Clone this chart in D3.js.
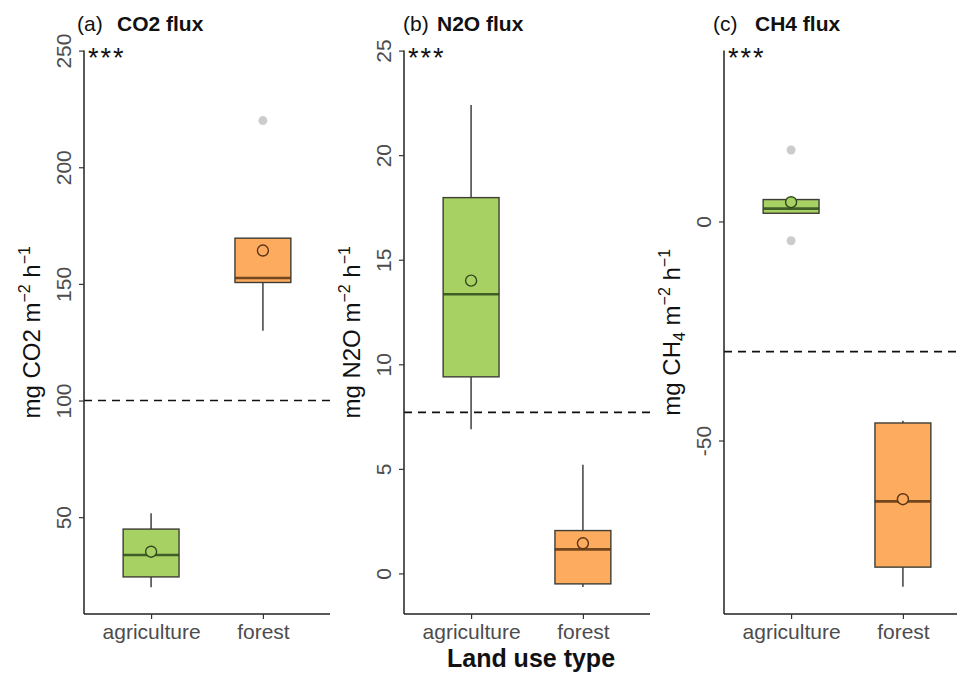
<!DOCTYPE html>
<html>
<head>
<meta charset="utf-8">
<script src="https://cdn.jsdelivr.net/npm/d3@7"></script>
<style>
  body { margin: 0; background: #fff; }
  svg { display: block; font-family: "Liberation Sans", Arial, sans-serif; }
</style>
</head>
<body>
<svg id="chart"></svg>
<script>
const categories = ['agriculture', 'forest'];
const panelTags = ['(a)', '(b)', '(c)'];
const panelTitles = ['CO2 flux', 'N2O flux', 'CH4 flux'];
const signif = '***';
const xTitle = 'Land use type';

// box stats per category: [whisker low, q1, median, q3, whisker high]
const co2Box = [[20, 24.4, 33.8, 44.9, 51.7], [129.9, 150.6, 152.5, 169.6, 169.6]];
const co2Mean = [35.2, 164.3];
const co2Outliers = [[], [220]];
const co2Ref = 100;
const co2Ticks = [50, 100, 150, 200, 250];
const co2Domain = [8.5, 250];

const n2oBox = [[6.9, 9.4, 13.35, 17.97, 22.4], [-0.65, -0.5, 1.15, 2.05, 5.2]];
const n2oMean = [14.0, 1.44];
const n2oOutliers = [[], []];
const n2oRef = 7.7;
const n2oTicks = [0, 5, 10, 15, 20, 25];
const n2oDomain = [-1.94, 25];

const ch4Box = [[1.87, 1.87, 2.94, 5.0, 5.0], [-83.4, -78.9, -63.9, -46, -45.5]];
const ch4Mean = [4.4, -63.4];
const ch4Outliers = [[16.3, -4.4], []];
const ch4Ref = -29.7;
const ch4Ticks = [-50, 0];
const ch4Domain = [-89.6, 39];

const panels = [
  { box: co2Box, mean: co2Mean, outliers: co2Outliers, ref: co2Ref, ticks: co2Ticks, domain: co2Domain, gas: ['CO2', ''] },
  { box: n2oBox, mean: n2oMean, outliers: n2oOutliers, ref: n2oRef, ticks: n2oTicks, domain: n2oDomain, gas: ['N2O', ''] },
  { box: ch4Box, mean: ch4Mean, outliers: ch4Outliers, ref: ch4Ref, ticks: ch4Ticks, domain: ch4Domain, gas: ['CH', '4'] }
];

const fills = { agriculture: '#a8d164', forest: '#fdab5e' };
const darks = { agriculture: '#2e4a1c', forest: '#5a3414' };

const width = 957;
const height = 673;
const plotTop = 50.6;
const plotBottom = 614;
const plotW = 246;
const panelStep = 320;
const firstAxis = 84;
const tagOffset = [-7, -1, -11];
const titleOffset = [33, 33, 31];

const svg = d3.select('#chart')
  .attr('width', width)
  .attr('height', height)
  .attr('viewBox', `0 0 ${width} ${height}`);

panels.forEach((p, i) => {
  const x0 = firstAxis + panelStep * i;
  const x = d3.scalePoint().domain(categories).range([x0, x0 + plotW]).padding(0.6);
  const y = d3.scaleLinear().domain(p.domain).range([plotBottom, plotTop]);
  const bw = x.step() * 0.5;
  const g = svg.append('g');

  // reference line
  g.append('line')
    .attr('x1', x0).attr('x2', x0 + plotW)
    .attr('y1', y(p.ref)).attr('y2', y(p.ref))
    .attr('stroke', '#111').attr('stroke-width', 1.6)
    .attr('stroke-dasharray', '8,6');

  const groups = g.selectAll('g.cat')
    .data(categories.map((c, k) => ({ cat: c, s: p.box[k], mean: p.mean[k], out: p.outliers[k] })))
    .join('g')
    .attr('class', 'cat');

  groups.append('line')
    .attr('x1', d => x(d.cat)).attr('x2', d => x(d.cat))
    .attr('y1', d => y(d.s[0])).attr('y2', d => y(d.s[1]))
    .attr('stroke', '#4d4d4d').attr('stroke-width', 1.6);
  groups.append('line')
    .attr('x1', d => x(d.cat)).attr('x2', d => x(d.cat))
    .attr('y1', d => y(d.s[3])).attr('y2', d => y(d.s[4]))
    .attr('stroke', '#4d4d4d').attr('stroke-width', 1.6);

  groups.selectAll('circle.out')
    .data(d => d.out.map(v => ({ cat: d.cat, v })))
    .join('circle')
    .attr('class', 'out')
    .attr('cx', d => x(d.cat)).attr('cy', d => y(d.v))
    .attr('r', 4.5)
    .attr('fill', '#cccccc');

  groups.append('rect')
    .attr('x', d => x(d.cat) - bw / 2)
    .attr('width', bw)
    .attr('y', d => y(d.s[3]))
    .attr('height', d => y(d.s[1]) - y(d.s[3]))
    .attr('fill', d => fills[d.cat])
    .attr('stroke', '#3d3d35').attr('stroke-width', 1.4);

  groups.append('line')
    .attr('x1', d => x(d.cat) - bw / 2).attr('x2', d => x(d.cat) + bw / 2)
    .attr('y1', d => y(d.s[2])).attr('y2', d => y(d.s[2]))
    .attr('stroke', d => darks[d.cat]).attr('stroke-width', 2.6)
    .attr('stroke-opacity', 0.85);

  groups.append('circle')
    .attr('cx', d => x(d.cat)).attr('cy', d => y(d.mean))
    .attr('r', 5.5)
    .attr('fill', d => fills[d.cat])
    .attr('stroke', d => darks[d.cat]).attr('stroke-width', 1.4);

  // axes
  const yAxis = g.append('g').attr('transform', `translate(${x0},0)`)
    .call(d3.axisLeft(y).tickValues(p.ticks).tickFormat(d => String(d))
      .tickSize(5).tickSizeOuter(0).tickPadding(4));
  yAxis.select('.domain').attr('d', `M0,${plotTop}V${plotBottom}`).attr('stroke', '#222').attr('stroke-width', 1.5);
  yAxis.selectAll('.tick line').attr('stroke', '#333').attr('stroke-width', 1.2);
  yAxis.selectAll('.tick text')
    .attr('x', null).attr('dy', null)
    .attr('transform', 'translate(-13,0) rotate(-90)')
    .attr('text-anchor', 'middle')
    .attr('font-size', 21)
    .attr('font-family', '"Liberation Sans", Arial, sans-serif')
    .attr('fill', '#4d4d4d');

  const xAxis = g.append('g').attr('transform', `translate(0,${plotBottom})`)
    .call(d3.axisBottom(x).tickSize(5).tickSizeOuter(0).tickPadding(6));
  xAxis.select('.domain').attr('d', `M${x0},0H${x0 + plotW}`).attr('stroke', '#222').attr('stroke-width', 1.5);
  xAxis.selectAll('.tick line').attr('stroke', '#333').attr('stroke-width', 1.2);
  xAxis.selectAll('.tick text')
    .attr('y', 25).attr('dy', null)
    .attr('font-size', 21)
    .attr('font-family', '"Liberation Sans", Arial, sans-serif')
    .attr('fill', '#4d4d4d');

  // y title
  const yt = g.append('text')
    .attr('transform', `translate(${x0 - 44},${(plotTop + plotBottom) / 2}) rotate(-90)`)
    .attr('text-anchor', 'middle')
    .attr('font-size', 24)
    .attr('fill', '#111');
  yt.append('tspan').text(`mg ${p.gas[0]}`);
  if (p.gas[1]) yt.append('tspan').attr('font-size', 16).attr('dy', 5).text(p.gas[1]);
  yt.append('tspan').attr('dy', p.gas[1] ? -5 : 0).text(' m');
  yt.append('tspan').attr('font-size', 16).attr('dy', -10).text('−2');
  yt.append('tspan').attr('dy', 10).text(' h');
  yt.append('tspan').attr('font-size', 16).attr('dy', -10).text('−1');

  // title
  g.append('text')
    .attr('x', x0 + tagOffset[i]).attr('y', 31)
    .attr('font-size', 21).attr('fill', '#111')
    .text(panelTags[i]);
  g.append('text')
    .attr('x', x0 + titleOffset[i]).attr('y', 31)
    .attr('font-size', 21).attr('font-weight', 'bold').attr('fill', '#111')
    .text(panelTitles[i]);

  g.append('text')
    .attr('x', x0 + 4).attr('y', 67)
    .attr('font-size', 27).attr('letter-spacing', 2).attr('fill', '#111')
    .text(signif);
});

svg.append('text')
  .attr('x', firstAxis + panelStep + plotW / 2 + 4).attr('y', 667)
  .attr('text-anchor', 'middle')
  .attr('font-size', 25).attr('font-weight', 'bold').attr('fill', '#111')
  .text(xTitle);
</script>
</body>
</html>
